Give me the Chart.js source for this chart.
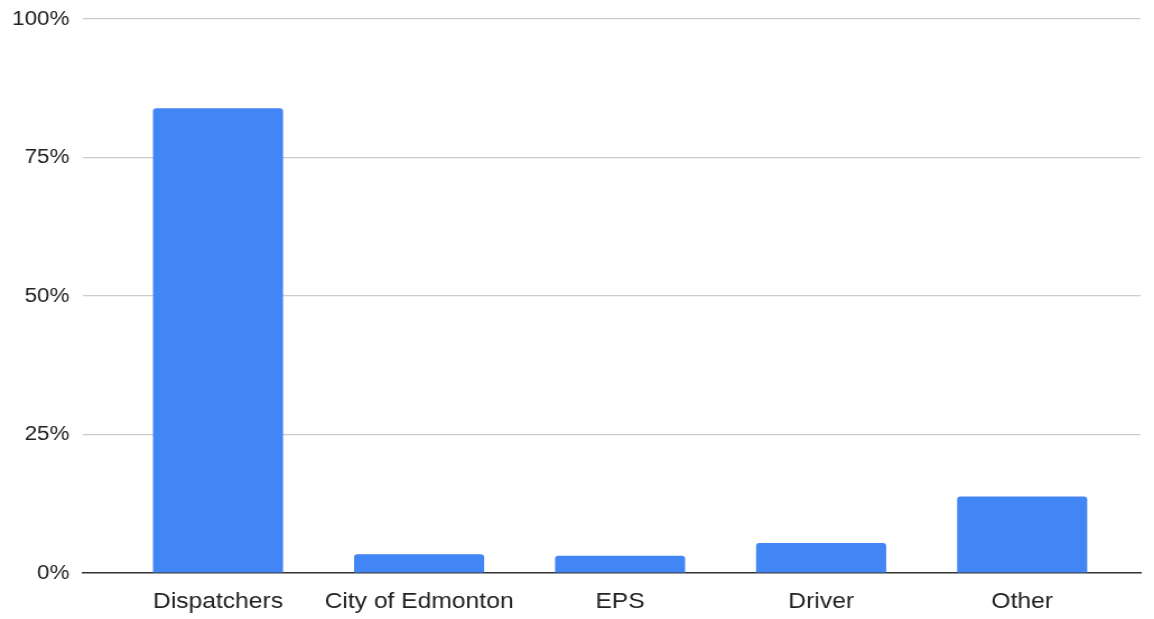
<!DOCTYPE html>
<html>
<head>
<meta charset="utf-8">
<script src="https://cdn.jsdelivr.net/npm/chart.js@4/dist/chart.umd.min.js"></script>
<style>
    html, body { margin: 0; padding: 0; background: #fff; overflow: hidden; }
    /* 元画像は横方向に引き伸ばされているので同じ比率で拡大 */
    #wrap {
        width: 1030px;
        height: 619px;
        transform: scaleX(1.1204);
        transform-origin: 0 0;
    }
</style>
</head>
<body>
<div id="wrap"><canvas id="barChart"></canvas></div>
<script>
// カテゴリと値（%）
const categories = ['Dispatchers', 'City of Edmonton', 'EPS', 'Driver', 'Other'];
const shares = [83.9, 3.4, 3.1, 5.4, 13.8];
const yTicks = [0, 25, 50, 75, 100];

const FONT = "'Liberation Sans', Arial, sans-serif";

/**
 * グラフの描画
 */
const ctx = document.getElementById('barChart').getContext('2d');
new Chart(ctx, {
    type: 'bar',
    data: {
        datasets: [{
            data: shares.map((v, i) => ({ x: i, y: v })),
            backgroundColor: '#4285f4',
            borderRadius: { topLeft: 3, topRight: 3 },
            borderSkipped: 'start',
            categoryPercentage: 1,
            barPercentage: 0.647
        }]
    },
    options: {
        responsive: true,
        maintainAspectRatio: false,
        animation: false,
        layout: {
            padding: { top: 19, right: 12, left: 0, bottom: 0 }
        },
        plugins: {
            legend: { display: false },
            tooltip: { enabled: false }
        },
        scales: {
            x: {
                type: 'linear',
                offset: false,
                min: -0.672,
                max: 4.589,
                afterBuildTicks: (scale) => {
                    scale.ticks = categories.map((c, i) => ({ value: i }));
                },
                grid: { display: false, drawTicks: false },
                border: { display: true, color: '#333', width: 1.5 },
                ticks: {
                    padding: 16,
                    color: '#222',
                    font: { family: FONT, size: 22 },
                    callback: (v) => categories[v]
                },
                afterFit: (scale) => { scale.height = 46; }
            },
            y: {
                min: 0,
                max: 100,
                afterBuildTicks: (scale) => {
                    scale.ticks = yTicks.map(v => ({ value: v }));
                },
                grid: {
                    color: (c) => c.tick && c.tick.value === 0 ? 'rgba(0,0,0,0)' : '#cccccc',
                    lineWidth: 1.2,
                    drawTicks: false
                },
                border: { display: false },
                ticks: {
                    padding: 12,
                    color: '#222',
                    font: { family: FONT, size: 20 },
                    callback: (v) => v + '%'
                },
                afterFit: (scale) => {
                    scale.width = 74;
                    scale.paddingTop = 0;
                    scale.paddingBottom = 0;
                }
            }
        }
    }
});
</script>
</body>
</html>
